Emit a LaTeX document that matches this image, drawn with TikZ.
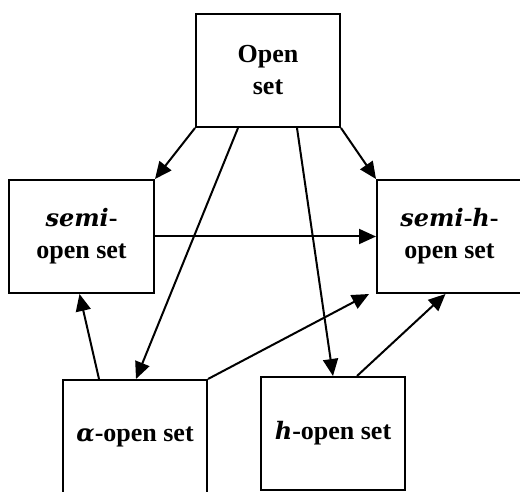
\documentclass[tikz,border=0pt]{standalone}
\usepackage{fontspec}
\setmainfont{Liberation Serif}
\newfontfamily\myitfont{DejaVu Serif}
\newcommand{\myit}[1]{{\myitfont\bfseries\itshape\fontsize{24}{32}\selectfont #1}}
\usetikzlibrary{arrows.meta,calc}
\tikzset{
  box/.style={draw, line width=2pt, minimum width=144pt, minimum height=113pt, inner sep=0pt,
    font=\fontsize{26}{32}\selectfont\bfseries, align=center},
  arr/.style={line width=2pt, -{Triangle[length=17pt,width=15pt]}}
}
\begin{document}
\begin{tikzpicture}[x=1pt,y=-1pt]
\useasboundingbox (0,0) rectangle (520,492);
\clip (0,0) rectangle (520,492);
\fill[white] (0,0) rectangle (520,492);
\node[box] (open) at (268,70.5) {Open\\set};
\node[box, minimum width=145pt] (semi) at (81.5,236.5) {\myit{semi}-\\open set};
\node[box, minimum width=145pt] (semih) at (449.5,236.5) {\myit{semi}-\myit{h}-\\open set};
\node[box, minimum height=114pt] (alpha) at (135,437) {\myit{α}-open set};
\node[box] (hopen) at (333,433.5) {\myit{h}-open set};
\draw[arr] (open.south west) -- (semi.north east);
\draw[arr] (open.south east) -- (semih.north west);
\draw[arr] ($(open.south)+(-30,0)$) -- ($(alpha.north)+(1,0)$);
\draw[arr] ($(open.south)+(29,0)$) -- (hopen.north);
\draw[arr] (semi.east) -- (semih.west);
\draw[arr] ($(alpha.north)+(-36,0)$) -- ($(semi.south)+(-2,0)$);
\draw[arr] (alpha.north east) -- ($(semih.south west)+(-7,0)$);
\draw[arr] ($(hopen.north)+(24,0)$) -- ($(semih.south)+(-4,0)$);
\end{tikzpicture}
\end{document}
